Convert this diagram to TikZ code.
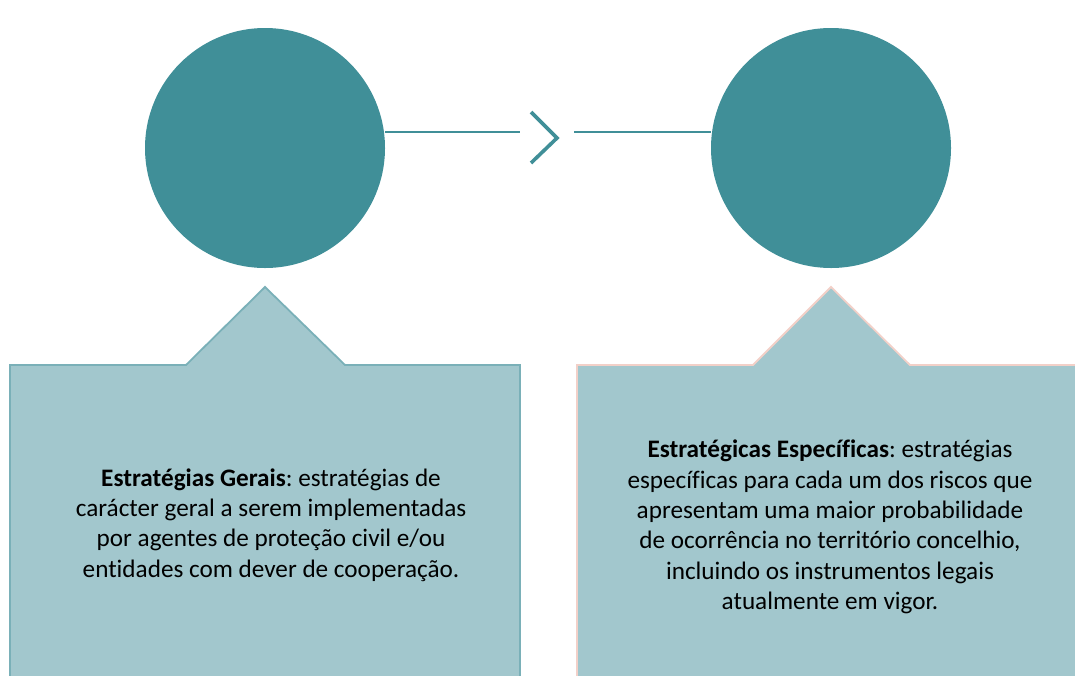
\documentclass[tikz,border=0pt]{standalone}
\usepackage{fontspec}
\setmainfont{Carlito}[Ligatures=NoCommon]
\frenchspacing
\definecolor{teal1}{RGB}{64,143,152}
\definecolor{boxfill}{RGB}{162,199,205}
\definecolor{boxline1}{RGB}{122,176,184}
\definecolor{boxline2}{RGB}{242,208,200}
\begin{document}
\begin{tikzpicture}[x=1pt,y=-1pt,
  circ/.style={circle,fill=teal1,minimum size=240pt,inner sep=0pt},
  conn/.style={draw=teal1,line width=2.8pt},
  calloutbox/.style={fill=boxfill,line width=1.8pt,line join=miter},
  txt/.style={align=center,font=\fontsize{25.2}{30.3}\selectfont,text=black}]
\useasboundingbox (0,0) rectangle (1075,675);
% callout boxes
\draw[calloutbox,draw=boxline1] (10,690) -- (10,365) -- (186,365) -- (265,287) -- (345,365) -- (520,365) -- (520,690);
\draw[calloutbox,draw=boxline2] (577,690) -- (577,365) -- (753,365) -- (831,287) -- (910,365) -- (1085,365) -- (1085,690);
% circles
\node[circ] (c1) at (265,148) {};
\node[circ] (c2) at (831,148) {};
% connector
\coordinate (m1) at (520,132);
\coordinate (m2) at (574,132);
\draw[conn] (c1.east |- m1) -- (m1);
\draw[conn] (m2) -- (c2.west |- m2);
\draw[draw=teal1,line width=3.6pt,line join=miter,miter limit=10] (531,112) -- (557,138) -- (531,163);
% texts
\node[txt] (t1) at (271,525) {\textbf{Estratégias Gerais}: estratégias de\\carácter geral a serem implementadas\\por agentes de proteção civil e/ou\\entidades com dever de cooperação.};
\node[txt] (t2) at (830,527) {\textbf{Estratégicas Específicas}: estratégias\\específicas para cada um dos riscos que\\apresentam uma maior probabilidade\\de ocorrência no território concelhio,\\incluindo os instrumentos legais\\atualmente em vigor.};
\end{tikzpicture}
\end{document}
